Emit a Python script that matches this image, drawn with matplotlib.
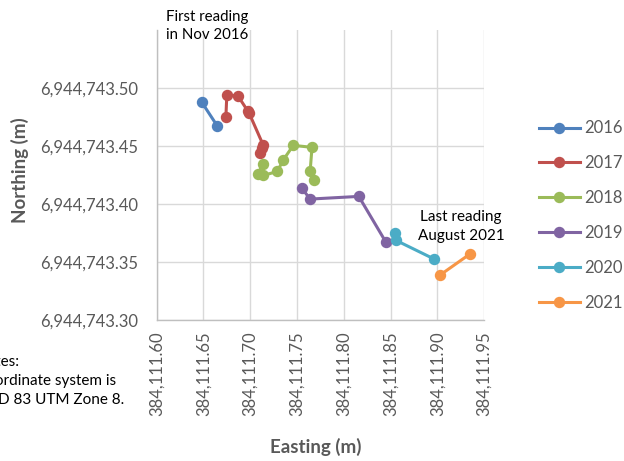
import numpy as np
import matplotlib
matplotlib.use('Agg')
import matplotlib.pyplot as plt
from matplotlib.ticker import FuncFormatter, MultipleLocator

plt.rcParams['font.family'] = ['Lato', 'DejaVu Sans']

# easting / northing readings per year
years = ['2016', '2017', '2018', '2019', '2020', '2021']
east_2016 = [384111.648, 384111.665]
north_2016 = [6944743.488, 6944743.467]
east_2017 = [384111.674, 384111.675, 384111.687, 384111.6975, 384111.699, 384111.714, 384111.7125, 384111.710]
north_2017 = [6944743.475, 6944743.494, 6944743.493, 6944743.480, 6944743.478, 6944743.4505, 6944743.448, 6944743.444]
east_2018 = [384111.714, 384111.708, 384111.714, 384111.729, 384111.735, 384111.746, 384111.766, 384111.764, 384111.768]
north_2018 = [6944743.4347, 6944743.426, 6944743.4246, 6944743.428, 6944743.4376, 6944743.4505, 6944743.4488, 6944743.428, 6944743.4203]
east_2019 = [384111.755, 384111.764, 384111.816, 384111.845]
north_2019 = [6944743.4137, 6944743.4042, 6944743.4065, 6944743.367]
east_2020 = [384111.855, 384111.856, 384111.896]
north_2020 = [6944743.3748, 6944743.3685, 6944743.3527]
east_2021 = [384111.903, 384111.935]
north_2021 = [6944743.3388, 6944743.357]

eastings = [east_2016, east_2017, east_2018, east_2019, east_2020, east_2021]
northings = [north_2016, north_2017, north_2018, north_2019, north_2020, north_2021]
colors = ['#4F81BD', '#C0504D', '#9BBB59', '#8064A2', '#4BACC6', '#F79646']

fig = plt.figure(figsize=(6.24, 4.61), dpi=100)
ax = fig.add_axes([0.251, 0.306, 0.525, 0.629])

for yr, e, n, c in zip(years, eastings, northings, colors):
    ax.plot(e, n, '-o', color=c, lw=2.2, ms=7.2, label=yr)

ax.set_xlim(384111.60, 384111.95)
ax.set_ylim(6944743.30, 6944743.55)
ax.xaxis.set_major_locator(MultipleLocator(0.05))
ax.set_yticks([6944743.30, 6944743.35, 6944743.40, 6944743.45, 6944743.50])
fmt = FuncFormatter(lambda v, p: '{:,.2f}'.format(v))
ax.xaxis.set_major_formatter(fmt)
ax.yaxis.set_major_formatter(fmt)
ax.grid(True, color='#d9d9d9', lw=1)
ax.set_axisbelow(True)
for s in ['top', 'right']:
    ax.spines[s].set_visible(False)
for s in ['left', 'bottom']:
    ax.spines[s].set_color('#bfbfbf')
    ax.spines[s].set_linewidth(1)
ax.tick_params(length=0, colors='#595959', labelsize=12)
ax.tick_params(axis='x', pad=8)
ax.tick_params(axis='y', pad=13)
plt.setp(ax.get_xticklabels(), rotation=90)

ax.set_xlabel('Easting (m)', fontsize=13.5, fontweight='bold', color='#595959')
ax.set_ylabel('Northing (m)', fontsize=13.5, fontweight='bold', color='#595959')
ax.xaxis.set_label_coords(0.487, -0.407)
ax.yaxis.set_label_coords(-0.39, 0.517)

ax.legend(loc='center left', bbox_to_anchor=(1.12, 0.36), frameon=False,
          fontsize=12, labelcolor='#595959', handlelength=2.5,
          labelspacing=1.13, handletextpad=0.25)

fig.text(207 / 624, 1 - 26 / 461, 'First reading\nin Nov 2016', ha='center', va='center',
         fontsize=10.8, color='black', linespacing=1.3)
fig.text(461 / 624, 1 - 226.5 / 461, 'Last reading\nAugust 2021', ha='center', va='center',
         fontsize=11, color='black', linespacing=1.4)
fig.text(-24 / 624, 1 - 381 / 461, 'Notes:\nCoordinate system is\nNAD 83 UTM Zone 8.',
         ha='left', va='center', fontsize=11, color='black', linespacing=1.5)

fig.savefig('out.png', dpi=100)
